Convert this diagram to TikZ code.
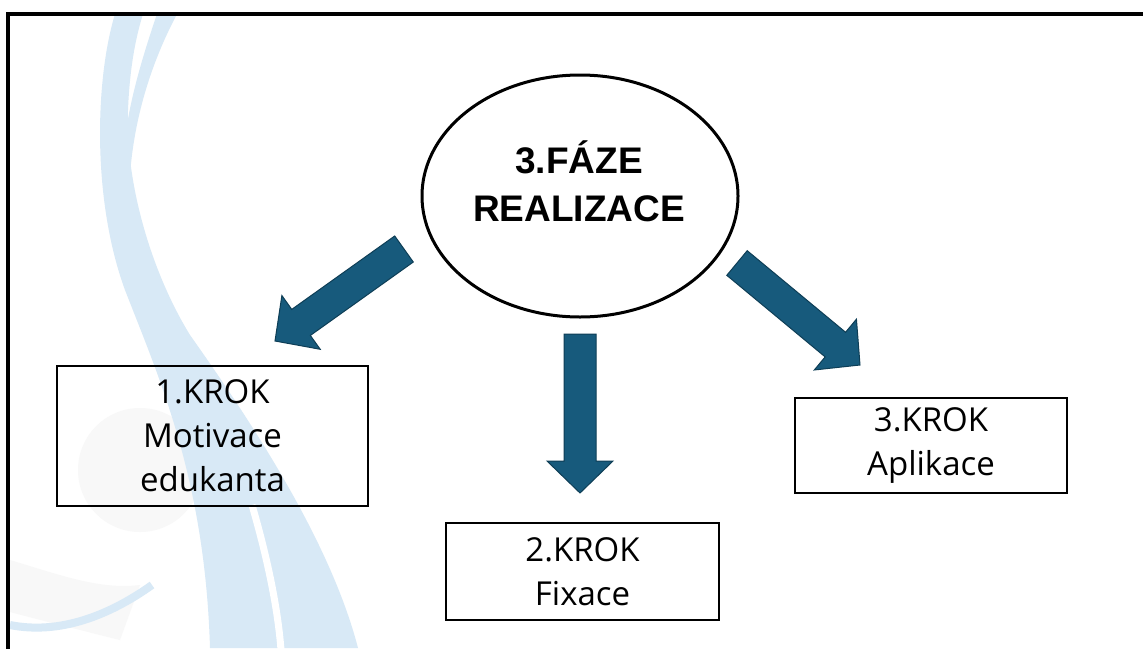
\documentclass[tikz,border=0pt]{standalone}
\usepackage{fontspec}
\setmainfont{Liberation Sans}
\newfontfamily\boxfont{Open Sans}
\usetikzlibrary{calc,shapes.geometric}
\definecolor{arrowblue}{HTML}{175A7C}
\definecolor{arrowedge}{HTML}{0E3E56}
\definecolor{wmblue}{HTML}{D8E9F6}
\definecolor{wmgray}{HTML}{F8F8F8}
\tikzset{
  stepbox/.style={draw=black, line width=1.6pt, fill=none, align=center, inner sep=0pt,
    font=\boxfont\fontsize{33}{44}\selectfont, text=black},
  phasenode/.style={draw=black, line width=3pt, ellipse, inner sep=0pt},
  phasetext/.style={align=center, font=\bfseries\fontsize{37}{48}\selectfont, text=black},
  arrowfill/.style={fill=arrowblue, draw=arrowedge, line width=1pt, line join=miter},
  framestyle/.style={draw=black, line width=4pt}
}
\newcommand\blkarrow[2]{%
  \coordinate (hb) at ($(#2)!32pt!(#1)$);
  \path[arrowfill] ($(#1)!16pt!90:(#2)$) -- ($(hb)!16pt!-90:(#1)$) -- ($(hb)!33pt!-90:(#1)$) -- (#2)
     -- ($(hb)!33pt!90:(#1)$) -- ($(hb)!16pt!90:(#1)$) -- ($(#1)!16pt!-90:(#2)$) -- cycle;
}
\begin{document}
\begin{tikzpicture}[x=1pt,y=-1pt]
\useasboundingbox (0,0) rectangle (1143,648);
\fill[white] (0,0) rectangle (1143,648);
% watermark
\fill[wmgray] (140,470) circle (62);
\fill[wmgray] (10,560) .. controls (60,575) and (100,590) .. (140,585) -- (120,640) .. controls (80,630) and (40,620) .. (10,612) -- cycle;
\fill[wmblue] (115,14) .. controls (95,80) and (92,200) .. (125,290) .. controls (160,380) and (205,480) .. (210,648)
   -- (358,648) .. controls (330,540) and (250,420) .. (190,335) .. controls (150,270) and (125,180) .. (128,110)
   .. controls (130,60) and (138,30) .. (143,14) -- cycle;
\fill[wmblue] (157,14) .. controls (138,70) and (124,120) .. (122,172) -- (130,175) .. controls (134,120) and (150,65) .. (177,14) -- cycle;
\draw[white, line width=7pt] (252,505) .. controls (268,560) and (278,610) .. (281,650);
\draw[wmblue, line width=8pt] (10,625) .. controls (60,635) and (110,615) .. (152,585);
% frame
\draw[framestyle] (8,650) -- (8,14) -- (1145,14);
% main node
\node[phasenode, minimum width=316pt, minimum height=242pt] (phase) at (580,196) {};
\node[phasetext] (phaselabel) at (579,181) {3.FÁZE\\REALIZACE};
% step boxes
\node[stepbox, minimum width=311pt, minimum height=140pt] (k1) at (212.5,436) {1.KROK\\Motivace\\edukanta};
\node[stepbox, minimum width=273pt, minimum height=97pt] (k2) at (582.5,571.5) {2.KROK\\Fixace};
\node[stepbox, minimum width=272pt, minimum height=95pt] (k3) at (931,445.5) {3.KROK\\Aplikace};
% arrows
\coordinate (a1t) at (404,249); \coordinate (a1h) at (275,341);
\coordinate (a2t) at (580,334); \coordinate (a2h) at (580,493);
\coordinate (a3t) at (737,263); \coordinate (a3h) at (860,365);
\blkarrow{a1t}{a1h}
\blkarrow{a2t}{a2h}
\blkarrow{a3t}{a3h}
\end{tikzpicture}
\end{document}
